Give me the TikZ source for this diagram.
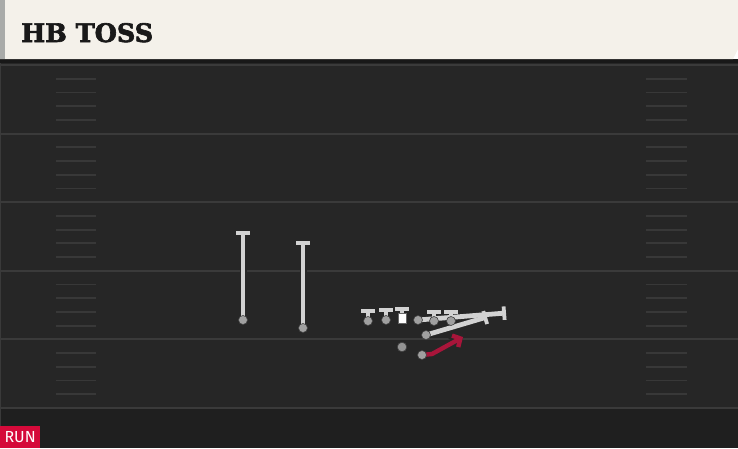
\documentclass[tikz,border=0pt]{standalone}
\usepackage{fontspec}
\usetikzlibrary{arrows.meta,backgrounds}
\newfontfamily\titlefont{DejaVu Serif}[BoldFeatures={FakeBold=2.5}]
\newfontfamily\tagfont{Fira Sans}

\definecolor{fieldgray}{HTML}{262626}
\definecolor{fielddark}{HTML}{1F1F1F}
\definecolor{headshadow}{HTML}{181818}
\definecolor{headcream}{HTML}{F4F1EA}
\definecolor{stripegray}{HTML}{A9ABA9}
\definecolor{yardgray}{HTML}{3A3A3A}
\definecolor{hashgray}{HTML}{383838}
\definecolor{routegray}{HTML}{D2D2D2}
\definecolor{dotgray}{HTML}{A0A0A0}
\definecolor{runred}{HTML}{D50A3A}
\definecolor{hbred}{HTML}{A8153A}

\tikzset{
  yardline/.style={draw=yardgray, line width=2pt},
  hashmark/.style={draw=hashgray, line width=1.8pt},
  dot/.style={circle, fill=dotgray, draw=black!75, line width=0.6pt, inner sep=0pt, minimum size=9pt},
  qbdot/.style={circle, fill=gray!85, draw=black!75, line width=0.6pt, inner sep=0pt, minimum size=9.5pt},
  snapbox/.style={rectangle, fill=white, draw=black!60, line width=0.5pt, inner sep=0pt, minimum width=8.5pt, minimum height=9.5pt},
  routeshade/.style={draw=black!85, line width=7pt, -{Bar[width=16pt,line width=6pt]}},
  routeline/.style={draw=routegray, line width=4.8pt, -{Bar[width=13.5pt,line width=3.8pt]}},
  hbshade/.style={draw=black!85, line width=6.5pt, line join=round, -{Straight Barb[length=7pt,width=15pt]}},
  hbroute/.style={draw=hbred, line width=4.4pt, line join=round, -{Straight Barb[length=6pt,width=13pt]}},
  titletext/.style={font=\titlefont\bfseries\fontsize{25.5}{26}\selectfont, text=black!90, inner sep=0pt},
  runtag/.style={fill=runred, text=white, font=\tagfont\fontsize{16}{16}\selectfont, inner sep=0pt, minimum width=40pt, minimum height=22pt},
}

\begin{document}
\begin{tikzpicture}[x=1pt,y=-1pt]
\useasboundingbox (0,0) rectangle (738,448);

% field
\begin{scope}[on background layer]
  \fill[fieldgray] (0,59) rectangle (738,408);
  \fill[fielddark] (0,408) rectangle (738,448);
  \fill[headshadow] (0,59) rectangle (738,63);
  \draw[yardgray, line width=1pt] (0.5,63) -- (0.5,426);
  \foreach \i in {0,...,5}
    \draw[yardline] (0,65+68.6*\i) -- (738,65+68.6*\i);
  \foreach \i in {0,...,4}
    \foreach \k in {1,...,4} {
      \draw[hashmark] (56,65+68.6*\i+13.72*\k) -- (96,65+68.6*\i+13.72*\k);
      \draw[hashmark] (646,65+68.6*\i+13.72*\k) -- (687,65+68.6*\i+13.72*\k);
    }
\end{scope}

% header
\fill[headcream] (0,0) -- (738,0) -- (738,49) -- (733,59) -- (0,59) -- cycle;
\fill[stripegray] (0,0) rectangle (5,59);
\node[titletext, anchor=base west] (title) at (21,42) {HB TOSS};

% players
\node[dot] (wra) at (243,320) {};
\node[dot] (wrb) at (303,328) {};
\node[dot] (lt) at (368,321) {};
\node[dot] (lg) at (386,320) {};
\node[snapbox] (c) at (402,318) {};
\node[dot] (rg) at (418,320) {};
\node[dot] (rt) at (434,321) {};
\node[dot] (te) at (451,321) {};
\node[dot] (fb) at (426,335) {};
\node[qbdot] (qb) at (402,347) {};
\node[dot] (hb) at (422,355) {};

\coordinate (wraend) at (243,231);
\coordinate (wrbend) at (303,241);
\coordinate (ltend) at (368,309);
\coordinate (lgend) at (386,308);
\coordinate (cend) at (402,307);
\coordinate (rgend) at (506,313);
\coordinate (rtend) at (434,310);
\coordinate (teend) at (451,310);
\coordinate (fbend) at (487,317);
\coordinate (hbturn) at (432,354);
\coordinate (hbtip) at (463,337);

% routes
\begin{scope}[on background layer]
  \draw[routeshade] (wra.center) -- (wraend);
  \draw[routeshade] (wrb.center) -- (wrbend);
  \draw[routeshade] (lt.center) -- (ltend);
  \draw[routeshade] (lg.center) -- (lgend);
  \draw[routeshade] (c.center) -- (cend);
  \draw[routeshade] (rt.center) -- (rtend);
  \draw[routeshade] (te.center) -- (teend);
  \draw[routeshade] (rg.center) -- (rgend);
  \draw[routeshade] (fb.center) -- (fbend);
  \draw[hbshade] (hb.center) -- (hbturn) -- (hbtip);
  \draw[routeline] (wra.center) -- (wraend);
  \draw[routeline] (wrb.center) -- (wrbend);
  \draw[routeline] (lt.center) -- (ltend);
  \draw[routeline] (lg.center) -- (lgend);
  \draw[routeline] (c.center) -- (cend);
  \draw[routeline] (rt.center) -- (rtend);
  \draw[routeline] (te.center) -- (teend);
  \draw[routeline] (rg.center) -- (rgend);
  \draw[routeline] (fb.center) -- (fbend);
  \draw[hbroute] (hb.center) -- (hbturn) -- (hbtip);
\end{scope}

% play type
\node[runtag, anchor=south west] (tag) at (0,448) {RUN};
\end{tikzpicture}
\end{document}
